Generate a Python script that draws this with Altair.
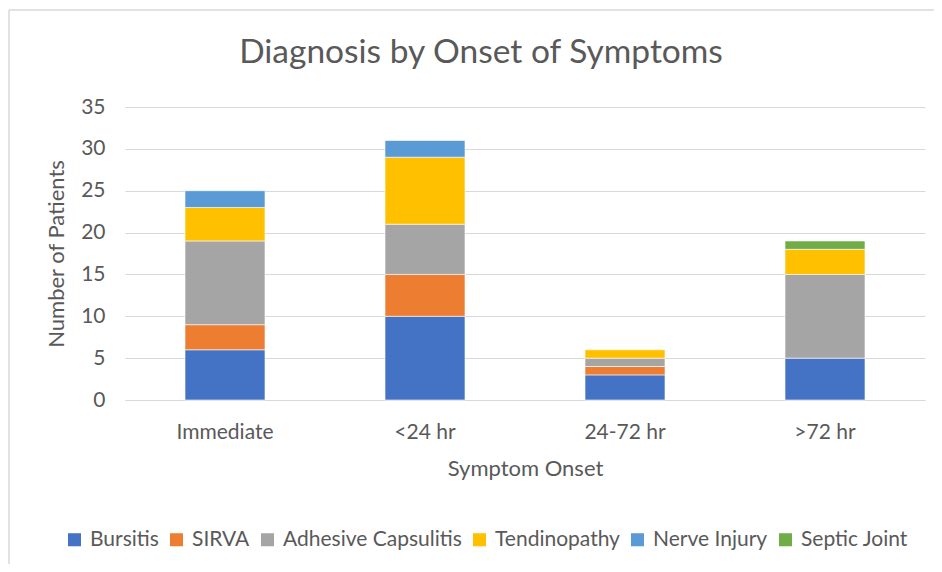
import altair as alt
import pandas as pd

onset = ["Immediate", "<24 hr", "24-72 hr", ">72 hr"]
diagnoses = ["Bursitis", "SIRVA", "Adhesive Capsulitis", "Tendinopathy", "Nerve Injury", "Septic Joint"]
bursitis = [6, 10, 3, 5]
sirva = [3, 5, 1, 0]
adhesive = [10, 6, 1, 10]
tendinopathy = [4, 8, 1, 3]
nerve = [2, 2, 0, 0]
septic = [0, 0, 0, 1]
colors = ["#4472C4", "#ED7D31", "#A5A5A5", "#FFC000", "#5B9BD5", "#70AD47"]
title_text = "Diagnosis by Onset of Symptoms"

series = [bursitis, sirva, adhesive, tendinopathy, nerve, septic]
rows = []
for i, (name, vals) in enumerate(zip(diagnoses, series)):
    for cat, v in zip(onset, vals):
        if v > 0:
            rows.append({"Onset": cat, "Diagnosis": name, "Patients": v, "idx": i})
df = pd.DataFrame(rows)

FONT = "Lato"
GRAY = "#595959"

bars = alt.Chart(df).mark_bar(stroke="white", strokeWidth=0.6).encode(
    x=alt.X("Onset:N", sort=onset,
            scale=alt.Scale(paddingInner=0.6, paddingOuter=0.3),
            axis=alt.Axis(title="Symptom Onset", labelAngle=0, ticks=False,
                          domain=True, domainColor="#d9d9d9",
                          labelPadding=21, titlePadding=16,
                          labelFontSize=21, titleFontSize=22)),
    y=alt.Y("sum(Patients):Q",
            scale=alt.Scale(domain=[0, 35]),
            axis=alt.Axis(title="Number of Patients", values=[0, 5, 10, 15, 20, 25, 30, 35],
                          ticks=False, domain=False, labelPadding=20, titlePadding=12,
                          gridColor="#d9d9d9", labelFontSize=21, titleFontSize=22)),
    color=alt.Color("Diagnosis:N", sort=diagnoses,
                    scale=alt.Scale(domain=diagnoses, range=colors),
                    legend=alt.Legend(orient="none", direction="horizontal", columns=6,
                                      legendX=-61, legendY=422, title=None,
                                      symbolType="square", symbolSize=170,
                                      symbolStrokeWidth=0, labelFontSize=21,
                                      labelColor=GRAY, columnPadding=7,
                                      labelOffset=5, labelLimit=0)),
    order=alt.Order("idx:Q", sort="ascending"),
)

one = pd.DataFrame({"a": [0]})
top_edge = alt.Chart(one).mark_rule(color="#d9d9d9", strokeWidth=1.5).encode(
    x=alt.value(-116), x2=alt.value(830), y=alt.value(-97),
)
left_edge = alt.Chart(one).mark_rule(color="#d9d9d9", strokeWidth=1.5).encode(
    x=alt.value(-116), y=alt.value(-97), y2=alt.value(470),
)

title = alt.Chart(pd.DataFrame({"t": [title_text]})).mark_text(
    fontSize=33.5, font=FONT, color=GRAY, baseline="middle", align="center"
).encode(
    text="t:N", x=alt.value(356), y=alt.value(-54),
)

chart = alt.layer(top_edge, left_edge, bars, title).properties(
    width=800, height=293,
    autosize=alt.AutoSizeParams(type="none"),
    padding={"left": 117, "top": 99, "right": 9, "bottom": 164},
).configure(font=FONT).configure_axis(
    labelColor=GRAY, titleColor=GRAY, labelFont=FONT, titleFont=FONT,
    titleFontWeight="normal"
).configure_legend(labelFont=FONT).configure_view(stroke=None)

chart.save("out.html", embed_options={"renderer": "svg", "actions": False})
